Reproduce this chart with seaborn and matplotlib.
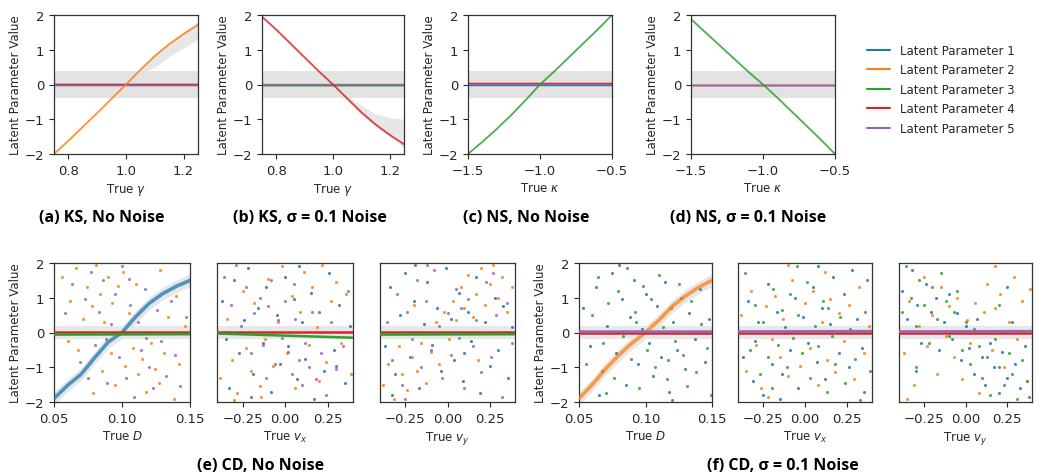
import numpy as np
import pandas as pd
import seaborn as sns
import matplotlib.pyplot as plt
from matplotlib.lines import Line2D

sns.set_style("ticks")
plt.rcParams['font.family'] = ['DejaVu Sans']

C = {1: '#1f77b4', 2: '#ff7f0e', 3: '#2ca02c', 4: '#d62728', 5: '#9467bd'}
legend_labels = ['Latent Parameter 1', 'Latent Parameter 2', 'Latent Parameter 3',
                 'Latent Parameter 4', 'Latent Parameter 5']

# ---- top row: curves ----
gamma = [0.75, 0.80, 0.85, 0.90, 0.95, 1.00, 1.05, 1.10, 1.15, 1.20, 1.25]
ks_clean_p2 = [-2.0, -1.62, -1.22, -0.82, -0.41, 0.0, 0.42, 0.82, 1.16, 1.45, 1.72]
ks_noise_p4 = [1.95, 1.58, 1.18, 0.78, 0.38, 0.0, -0.40, -0.80, -1.15, -1.45, -1.72]

gamma_tail = [1.00, 1.05, 1.10, 1.15, 1.20, 1.25]
ks_clean_hi = [0.04, 0.47, 0.88, 1.22, 1.52, 1.82]
ks_clean_lo = [-0.04, 0.30, 0.50, 0.80, 1.05, 1.30]
ks_noise_hi = [0.04, -0.32, -0.60, -0.85, -0.95, -1.00]
ks_noise_lo = [-0.04, -0.46, -0.88, -1.22, -1.52, -1.82]

kappa = [-1.5, -1.4, -1.3, -1.2, -1.1, -1.0, -0.9, -0.8, -0.7, -0.6, -0.5]
ns_clean_p3 = [-2.0, -1.65, -1.28, -0.88, -0.45, 0.0, 0.38, 0.78, 1.18, 1.58, 2.0]
ns_noise_p3 = [1.88, 1.50, 1.12, 0.74, 0.36, 0.0, -0.38, -0.78, -1.18, -1.58, -2.0]

# flat (near zero) parameters per top panel: {param: value}
flat_ks_clean = {1: 0.01, 3: 0.0, 4: 0.01, 5: 0.0}
flat_ks_noise = {1: 0.0, 2: -0.02, 3: 0.0, 5: 0.01}
flat_ns_clean = {1: 0.0, 2: 0.03, 4: 0.03, 5: 0.01}
flat_ns_noise = {1: -0.02, 2: 0.0, 4: -0.02, 5: -0.01}

# ---- bottom row ----
D_grid = [0.05, 0.06, 0.07, 0.08, 0.09, 0.10, 0.11, 0.12, 0.13, 0.14, 0.15]
cd_clean_p1 = [-1.9, -1.52, -1.2, -0.72, -0.27, 0.0, 0.45, 0.84, 1.12, 1.33, 1.5]
cd_noise_p2 = [-1.9, -1.5, -1.05, -0.65, -0.3, 0.0, 0.35, 0.75, 1.05, 1.3, 1.5]

e1_orange = [(0.056, 1.6), (0.062, 0.9), (0.066, 1.85), (0.071, 0.4), (0.074, 1.3), (0.078, 0.75),
             (0.081, 1.95), (0.084, 1.1), (0.087, 0.3), (0.09, 1.6), (0.093, 0.85), (0.097, 1.35),
             (0.101, 1.75), (0.105, 0.55), (0.108, -0.45), (0.112, -1.2), (0.115, -0.75), (0.118, -1.7),
             (0.121, -0.3), (0.124, -1.05), (0.127, -1.45), (0.131, -0.6), (0.134, 0.45), (0.138, -1.9),
             (0.142, -0.9), (0.146, 0.2), (0.092, -0.6), (0.095, -1.5), (0.085, -1.1), (0.079, -1.75),
             (0.068, -0.5), (0.128, 1.8), (0.14, 1.05), (0.11, 1.4), (0.06, -0.25), (0.102, -0.95)]
e1_purple = [(0.058, 0.55), (0.063, 1.4), (0.069, -0.85), (0.073, 0.95), (0.077, 1.75), (0.08, -0.35),
             (0.083, 0.6), (0.086, 1.5), (0.089, -1.45), (0.092, 0.25), (0.095, 1.1), (0.098, -0.7),
             (0.1, 1.9), (0.103, -1.3), (0.106, 0.8), (0.109, -1.85), (0.112, 0.3), (0.114, -0.5),
             (0.117, 1.25), (0.12, -1.0), (0.123, -1.6), (0.126, 0.65), (0.129, -0.25), (0.132, -1.25),
             (0.136, 0.9), (0.139, -0.65), (0.143, -1.55), (0.147, 0.45), (0.075, -1.3), (0.088, -0.2),
             (0.105, 1.55), (0.118, -0.15)]
e2_blue = [(-0.37, 0.9), (-0.33, -1.6), (-0.3, 1.5), (-0.27, -0.6), (-0.24, 0.35), (-0.22, 1.85),
           (-0.19, -1.2), (-0.16, 0.7), (-0.13, -0.3), (-0.11, 1.3), (-0.08, -1.7), (-0.05, 0.5),
           (-0.03, -0.9), (0.0, 1.6), (0.02, -0.4), (0.05, 0.95), (0.07, -1.35), (0.1, 0.3),
           (0.12, -0.75), (0.15, 1.15), (0.17, -1.9), (0.2, 0.6), (0.23, -1.1), (0.26, 1.7),
           (0.29, -0.5), (0.32, 0.8), (0.35, -1.45), (0.38, 0.2), (-0.35, -0.2), (0.08, 1.9),
           (-0.2, -1.85), (0.3, -0.95)]
e2_orange = [(-0.38, -1.3), (-0.34, 0.4), (-0.31, -0.8), (-0.28, -1.75), (-0.25, 1.2), (-0.23, -0.45),
             (-0.2, -1.1), (-0.18, 0.85), (-0.15, -1.55), (-0.12, -0.2), (-0.1, 1.55), (-0.07, -0.95),
             (-0.04, 0.3), (-0.02, 1.9), (0.01, -0.6), (0.04, 1.05), (0.06, -1.6), (0.09, 0.6),
             (0.11, 1.75), (0.14, -0.35), (0.16, 1.3), (0.19, 0.15), (0.22, 1.95), (0.24, -0.85),
             (0.27, 0.9), (0.3, 1.45), (0.33, -0.3), (0.36, 1.1), (0.39, -1.2), (-0.3, -1.95),
             (-0.14, -1.85), (0.2, -1.4)]
e2_purple = [(-0.36, 1.6), (-0.32, 0.8), (-0.29, 1.95), (-0.26, 0.2), (-0.23, 1.3), (-0.2, -0.6),
             (-0.18, 0.55), (-0.15, 1.0), (-0.13, -0.35), (-0.1, 0.75), (-0.08, 1.5), (-0.06, -0.9),
             (-0.04, 0.35), (-0.02, -0.15), (0.0, 0.9), (0.02, -0.55), (0.04, -1.2), (0.06, 0.4),
             (0.08, -0.8), (0.1, -1.5), (0.12, -0.3), (0.14, -1.0), (0.16, 0.6), (0.18, -1.35),
             (0.21, -0.6), (0.24, -1.8), (0.27, 0.3), (0.3, -1.05), (0.34, -0.4), (0.37, 1.2),
             (-0.11, -1.3), (0.05, 1.4)]
e3_blue = [(-0.37, -0.4), (-0.34, 1.3), (-0.31, -1.2), (-0.28, 0.5), (-0.25, 1.7), (-0.22, -0.7),
           (-0.2, 0.9), (-0.17, -1.6), (-0.14, 0.25), (-0.12, 1.45), (-0.09, -0.35), (-0.06, 0.7),
           (-0.04, -1.1), (-0.01, 1.85), (0.02, 0.4), (0.04, -0.8), (0.07, 1.15), (0.09, -1.4),
           (0.12, 0.6), (0.14, -0.25), (0.17, 1.6), (0.19, -1.75), (0.22, 0.3), (0.25, -0.95),
           (0.28, 1.0), (0.3, -0.5), (0.33, 0.75), (0.36, -1.3), (0.38, 0.15), (-0.33, -1.8),
           (0.1, -0.6), (-0.19, 1.95)]
e3_orange = [(-0.38, -1.5), (-0.35, -0.9), (-0.32, -1.9), (-0.29, -0.4), (-0.27, -1.2), (-0.24, -1.65),
             (-0.21, -0.7), (-0.18, -1.1), (-0.16, -0.3), (-0.13, -1.45), (-0.1, -0.55), (-0.07, 0.3),
             (-0.05, -0.9), (-0.02, 0.6), (0.01, -0.2), (0.03, 0.9), (0.05, 0.35), (0.08, 1.3),
             (0.1, 0.7), (0.12, 1.65), (0.15, 0.45), (0.17, 1.1), (0.2, 1.85), (0.22, 0.8),
             (0.25, 1.4), (0.27, 1.95), (0.3, 1.0), (0.32, 1.6), (0.35, 0.6), (0.38, 1.3),
             (-0.2, 0.8), (0.18, -0.8)]
e3_purple = [(-0.36, 0.3), (-0.33, -0.8), (-0.3, 1.1), (-0.27, -1.5), (-0.24, 0.6), (-0.21, -0.2),
             (-0.18, 1.5), (-0.16, -1.0), (-0.13, 0.9), (-0.1, -0.5), (-0.08, 1.8), (-0.05, 0.2),
             (-0.03, -1.3), (0.0, 0.55), (0.02, -0.65), (0.05, 1.25), (0.07, -0.15), (0.1, -1.6),
             (0.12, 0.95), (0.15, -0.4), (0.17, 0.35), (0.2, -1.15), (0.23, 1.45), (0.26, -0.7),
             (0.29, 0.5), (0.32, -1.85), (0.35, 0.85), (0.38, -0.3), (-0.12, 1.95), (0.08, 0.7),
             (-0.25, -1.9), (0.27, 1.7)]
f1_blue = [(0.053, 0.7), (0.058, -0.4), (0.063, 1.3), (0.067, -1.1), (0.071, 0.2), (0.075, 1.7),
           (0.078, -0.6), (0.082, 0.95), (0.085, -1.5), (0.088, 0.45), (0.091, 1.5), (0.094, -0.9),
           (0.097, 0.1), (0.1, 1.1), (0.103, -0.3), (0.106, -1.25), (0.109, 0.75), (0.112, -0.7),
           (0.115, 1.45), (0.118, -1.7), (0.121, 0.3), (0.124, -0.5), (0.127, 1.0), (0.13, -1.05),
           (0.133, 0.55), (0.137, -0.2), (0.141, 1.25), (0.145, -0.85), (0.148, 0.4), (0.08, 1.95),
           (0.12, -1.95), (0.065, -1.8)]
f1_green = [(0.055, -0.9), (0.06, 0.5), (0.064, 1.6), (0.068, -0.3), (0.072, 0.85), (0.076, -1.3),
            (0.079, 1.2), (0.083, -0.1), (0.086, 1.85), (0.089, -0.75), (0.092, 0.6), (0.095, -1.6),
            (0.098, 1.35), (0.101, -0.5), (0.104, 0.95), (0.107, -1.0), (0.11, 1.65), (0.113, 0.15),
            (0.116, -1.35), (0.119, 0.7), (0.122, -0.25), (0.125, 1.4), (0.128, -0.65), (0.131, -1.55),
            (0.134, 0.9), (0.138, -1.15), (0.142, 0.25), (0.146, -0.45), (0.149, -1.8), (0.07, -1.75),
            (0.093, 0.3), (0.117, -0.8)]
f2_blue = [(-0.37, -0.7), (-0.34, 0.9), (-0.31, -1.4), (-0.28, 0.3), (-0.25, -1.8), (-0.22, 1.4),
           (-0.2, -0.9), (-0.17, 0.6), (-0.14, -1.2), (-0.12, 0.15), (-0.09, -0.5), (-0.06, 1.0),
           (-0.04, -1.6), (-0.01, 0.45), (0.02, -0.3), (0.05, 1.3), (0.07, -0.85), (0.1, 0.7),
           (0.12, -1.35), (0.15, 0.25), (0.17, 1.6), (0.2, -0.6), (0.23, 1.1), (0.26, -1.0),
           (0.28, 1.8), (0.31, 0.4), (0.34, -0.45), (0.37, 1.5), (-0.3, -0.25), (0.08, 1.9),
           (-0.15, -1.9), (0.35, -1.7)]
f2_orange = [(-0.38, 0.5), (-0.35, -1.1), (-0.32, 1.2), (-0.29, -0.35), (-0.26, -1.6), (-0.23, 0.75),
             (-0.2, -0.2), (-0.18, 1.05), (-0.15, -0.7), (-0.13, 0.4), (-0.1, -1.25), (-0.08, 1.5),
             (-0.05, 0.05), (-0.03, -0.95), (0.0, 0.85), (0.03, -0.45), (0.05, 1.2), (0.08, -1.5),
             (0.1, 0.3), (0.13, -0.8), (0.15, 0.95), (0.18, -1.15), (0.2, 0.55), (0.23, -0.25),
             (0.26, 0.8), (0.29, -1.35), (0.32, 1.3), (0.35, -0.6), (0.38, 0.2), (-0.22, -1.85),
             (0.12, 1.75), (-0.1, 1.95)]
f2_green = [(-0.36, 1.7), (-0.33, -0.5), (-0.3, 0.8), (-0.27, -1.2), (-0.25, 0.3), (-0.22, -0.7),
            (-0.19, 1.25), (-0.16, -0.35), (-0.14, 0.65), (-0.11, -1.0), (-0.09, 1.1), (-0.07, -0.15),
            (-0.04, 0.5), (-0.02, -0.6), (0.01, 1.45), (0.03, -1.3), (0.06, 0.2), (0.08, -0.4),
            (0.11, 0.9), (0.13, -1.7), (0.16, -0.1), (0.18, -0.9), (0.21, 0.45), (0.24, -1.45),
            (0.27, 0.1), (0.3, -0.75), (0.33, -1.95), (0.36, 0.6), (0.39, -1.1), (-0.05, 1.9),
            (0.14, 0.7), (-0.2, -1.6)]
f3_blue = [(-0.38, 1.2), (-0.35, 0.4), (-0.32, 1.8), (-0.29, 0.8), (-0.27, -0.3), (-0.24, 1.4),
           (-0.21, 0.6), (-0.18, 1.0), (-0.16, -0.5), (-0.13, 0.3), (-0.1, 1.1), (-0.08, -0.2),
           (-0.05, 0.55), (-0.03, -0.8), (0.0, 0.2), (0.02, -0.45), (0.05, -1.2), (0.07, 0.4),
           (0.1, -0.7), (0.12, -1.5), (0.15, -0.3), (0.17, -1.0), (0.2, -1.75), (0.22, -0.55),
           (0.25, -1.3), (0.28, 0.3), (0.3, -0.9), (0.33, -1.6), (0.36, -0.4), (0.38, -1.85),
           (-0.3, -1.1), (0.25, 1.3)]
f3_orange = [(-0.37, -0.6), (-0.34, 0.9), (-0.31, -1.5), (-0.28, 0.2), (-0.25, 1.6), (-0.23, -0.4),
             (-0.2, 0.5), (-0.17, -1.2), (-0.15, 1.3), (-0.12, -0.1), (-0.1, 0.75), (-0.07, -0.7),
             (-0.05, 1.0), (-0.02, -1.35), (0.01, 0.35), (0.03, -0.3), (0.06, 0.85), (0.08, -1.75),
             (0.11, 0.6), (0.13, 1.4), (0.16, -0.5), (0.18, 0.7), (0.21, 1.1), (0.23, -1.0),
             (0.26, 0.3), (0.29, 1.6), (0.31, -0.2), (0.34, 0.9), (0.37, -1.4), (0.39, 1.25),
             (-0.35, -1.9), (0.18, 1.9)]
f3_green = [(-0.38, 0.6), (-0.36, 1.9), (-0.33, 1.0), (-0.3, 0.2), (-0.28, 1.5), (-0.25, 0.8),
            (-0.22, -0.3), (-0.2, 1.3), (-0.17, 0.4), (-0.15, 1.7), (-0.12, 0.9), (-0.1, -0.1),
            (-0.07, 0.6), (-0.05, 1.2), (-0.02, -0.5), (0.0, 0.3), (0.03, -0.9), (0.05, 0.1),
            (0.08, -0.4), (0.1, -1.3), (0.13, -0.7), (0.15, -1.8), (0.18, -0.2), (0.2, -1.0),
            (0.23, -1.5), (0.26, -0.6), (0.28, -1.2), (0.31, -1.9), (0.34, -0.8), (0.37, -1.4),
            (-0.3, -1.0), (0.2, 0.8)]

# near-zero lines in bottom panels: (x ends, y ends) per param
vel_ends = [-0.4, 0.4]
D_ends = [0.05, 0.15]
e_flat = {'D': {4: [0.01, 0.01], 3: [-0.06, -0.05]},
          'vx': {4: [0.01, 0.01], 3: [-0.03, -0.15]},
          'vy': {4: [0.01, 0.01], 3: [-0.06, -0.05]}}
f_flat = {'D': {4: [0.0, 0.0], 5: [0.03, 0.03]},
          'vx': {4: [0.0, 0.0], 5: [0.03, 0.04]},
          'vy': {4: [0.0, 0.0], 5: [0.03, 0.04]}}

# ---- figure ----
W, H = 1050, 477
fig = plt.figure(figsize=(W / 100, H / 100), dpi=100)


def axes_px(l, r, t, b):
    return fig.add_axes([l / W, 1 - b / H, (r - l) / W, (b - t) / H])


TICK_FS = 9.5
LAB_FS = 8.5


def style(ax, xlabel, ylab=True, ylabels=True):
    ax.set_ylim(-2, 2)
    ax.set_yticks([-2, -1, 0, 1, 2])
    ax.tick_params(labelsize=TICK_FS, length=3.5, width=0.8, color='.15')
    ax.set_xlabel(xlabel, fontsize=LAB_FS, labelpad=3)
    if ylab:
        ax.set_ylabel('Latent Parameter Value', fontsize=LAB_FS, labelpad=2)
    else:
        ax.set_ylabel('')
    if not ylabels:
        ax.tick_params(axis='y', labelleft=False, left=False)
    for s in ax.spines.values():
        s.set_linewidth(0.9)
        s.set_color('.2')


def flat_lines(ax, flats, xlim):
    for p, v in flats.items():
        sns.lineplot(x=xlim, y=[v, v], color=C[p], lw=1.0, ax=ax, legend=False)


def top_panel(ax, xs, ys, p, flats, xlim, xlabel, tail=None):
    ax.axhspan(-0.4, 0.4, color='#e3e3e3', lw=0, zorder=0)
    if tail is not None:
        tx, lo, hi = tail
        ax.fill_between(tx, lo, hi, color='#e2e2e2', alpha=0.8, lw=0, zorder=1)
    flat_lines(ax, flats, xlim)
    sns.lineplot(x=xs, y=ys, color=C[p], lw=1.3, alpha=0.85, ax=ax, legend=False)
    ax.set_xlim(*xlim)
    style(ax, xlabel)


def scatter(ax, pts, p):
    df = pd.DataFrame(pts, columns=['x', 'y'])
    sns.scatterplot(data=df, x='x', y='y', color=C[p], s=5, linewidth=0, alpha=0.85,
                    ax=ax, legend=False, zorder=2)


def bottom_panel(ax, clouds, flats, xlim, xlabel, ylab, curve=None):
    ax.axhspan(-0.2, 0.2, color='#e8e8e8', lw=0, zorder=0)
    for pts, p in clouds:
        scatter(ax, pts, p)
    if curve is not None:
        cx, cy, p = curve
        ax.fill_between(cx, np.array(cy) - 0.18, np.array(cy) + 0.18, color='#e6e6e6', lw=0, zorder=1)
        sns.lineplot(x=cx, y=cy, color=C[p], lw=2.6, alpha=0.75, ax=ax, legend=False, zorder=3)
    for p, v in flats.items():
        sns.lineplot(x=xlim, y=v, color=C[p], lw=1.8, ax=ax, legend=False, zorder=4)
    ax.set_xlim(*xlim)
    style(ax, xlabel, ylab=ylab, ylabels=ylab)


# top row
ax = axes_px(54, 198, 16, 155)
top_panel(ax, gamma, ks_clean_p2, 2, flat_ks_clean, (0.75, 1.25), r'True $\gamma$',
          tail=(gamma_tail, ks_clean_lo, ks_clean_hi))
ax.set_xticks([0.8, 1.0, 1.2])
ax = axes_px(262, 404, 16, 155)
top_panel(ax, gamma, ks_noise_p4, 4, flat_ks_noise, (0.75, 1.25), r'True $\gamma$',
          tail=(gamma_tail, ks_noise_lo, ks_noise_hi))
ax.set_xticks([0.8, 1.0, 1.2])
ax = axes_px(468, 612, 16, 155)
top_panel(ax, kappa, ns_clean_p3, 3, flat_ns_clean, (-1.5, -0.5), r'True $\kappa$')
ax.set_xticks([-1.5, -1.0, -0.5])
ax = axes_px(691, 835, 16, 155)
top_panel(ax, kappa, ns_noise_p3, 3, flat_ns_noise, (-1.5, -0.5), r'True $\kappa$')
ax.set_xticks([-1.5, -1.0, -0.5])

# bottom row
vel_ticks = [-0.25, 0.0, 0.25]
ax = axes_px(54, 190, 264, 403)
bottom_panel(ax, [(e1_orange, 2), (e1_purple, 5)], e_flat['D'], D_ends, r'True $D$', True,
             curve=(D_grid, cd_clean_p1, 1))
ax.set_xticks([0.05, 0.10, 0.15])
ax = axes_px(217, 353, 264, 403)
bottom_panel(ax, [(e2_blue, 1), (e2_orange, 2), (e2_purple, 5)], e_flat['vx'], vel_ends,
             r'True $v_x$', False)
ax.set_xticks(vel_ticks)
ax = axes_px(380, 515, 264, 403)
bottom_panel(ax, [(e3_blue, 1), (e3_orange, 2), (e3_purple, 5)], e_flat['vy'], vel_ends,
             r'True $v_y$', False)
ax.set_xticks(vel_ticks)
ax = axes_px(579, 712, 264, 403)
bottom_panel(ax, [(f1_blue, 1), (f1_green, 3)], f_flat['D'], D_ends, r'True $D$', True,
             curve=(D_grid, cd_noise_p2, 2))
ax.set_xticks([0.05, 0.10, 0.15])
ax = axes_px(738, 872, 264, 403)
bottom_panel(ax, [(f2_blue, 1), (f2_orange, 2), (f2_green, 3)], f_flat['vx'], vel_ends,
             r'True $v_x$', False)
ax.set_xticks(vel_ticks)
ax = axes_px(899, 1032, 264, 403)
bottom_panel(ax, [(f3_blue, 1), (f3_orange, 2), (f3_green, 3)], f_flat['vy'], vel_ends,
             r'True $v_y$', False)
ax.set_xticks(vel_ticks)

# legend
handles = [Line2D([], [], color=C[i + 1], lw=1.5) for i in range(5)]
fig.legend(handles, legend_labels, loc='upper left', bbox_to_anchor=(862 / W, 1 - 40 / H),
           frameon=False, fontsize=8.5, handlelength=2.0, labelspacing=0.55, borderaxespad=0)

# captions
cap = dict(fontsize=11.5, fontweight='bold', family=['Open Sans', 'DejaVu Sans'],
           ha='center', va='center', color='black')
captions = [('(a) KS, No Noise', 102, 218), ('(b) KS, σ = 0.1 Noise', 310, 218),
            ('(c) NS, No Noise', 526, 218), ('(d) NS, σ = 0.1 Noise', 748, 218),
            ('(e) CD, No Noise', 261, 466), ('(f) CD, σ = 0.1 Noise', 783, 466)]
for txt, x, y in captions:
    fig.text(x / W, 1 - y / H, txt, **cap)

fig.savefig('out.png', dpi=100)
